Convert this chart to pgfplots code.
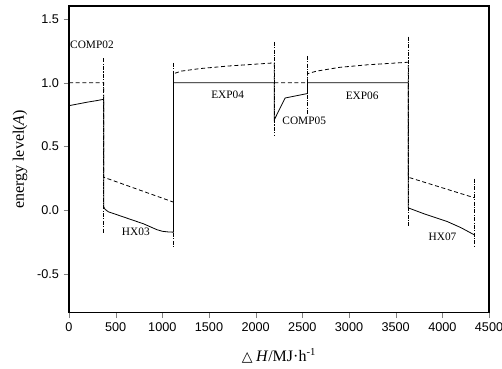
\documentclass[border=0pt]{standalone}
\usepackage{fontspec}
\setmainfont{Liberation Serif}
\newfontfamily\arialf{Liberation Sans}
\newfontfamily\dejavu{DejaVu Sans}
\usepackage{pgfplots}
\pgfplotsset{compat=1.18}
\begin{document}
\begin{tikzpicture}
\begin{axis}[
  at={(0pt,0pt)}, anchor=south west,
  scale only axis,
  width=315pt, height=230pt,
  xmin=0, xmax=4500, ymin=-0.8, ymax=1.6,
  xtick={0,500,...,4500},
  ytick={-0.5,0,0.5,1.0,1.5},
  tick align=outside, xtick pos=bottom, ytick pos=left,
  major tick length=4pt,
  axis line style={line width=0.8pt},
  /pgf/number format/assume math mode=true,
  /pgf/number format/1000 sep={},
  yticklabel style={font=\arialf\fontsize{9.5}{11}\selectfont, /pgf/number format/fixed, /pgf/number format/fixed zerofill, /pgf/number format/precision=1},
  xticklabel style={font=\arialf\fontsize{9.5}{11}\selectfont},
  scaled ticks=false,
  xlabel={{\dejavu\fontsize{10.5}{10}\selectfont △}\hspace{2.5pt}\textit{H}/MJ·h\textsuperscript{-1}},
  ylabel={energy level(\textit{A})},
  label style={font=\fontsize{12}{14}\selectfont},
  xlabel style={at={(axis description cs:0.5,-0.141)}, anchor=center},
  ylabel style={at={(axis description cs:-0.1167,0.5)}, anchor=center},
  clip=false,
]
% solid line
\addplot[black, line width=0.6pt] coordinates {
(0,0.820) (100,0.834) (200,0.848) (300,0.860) (372,0.870)
(372,0.030) (385,0.010) (420,-0.010) (600,-0.055) (800,-0.105) (940,-0.150) (1000,-0.163) (1060,-0.168) (1120,-0.170)
(1120,1.0) (2200,1.0) (2200,0.71) (2315,0.88) (2555,0.915) (2555,1.0) (3635,1.0)
(3635,0.02) (3800,-0.025) (4050,-0.086) (4200,-0.135) (4340,-0.19)
};
% dashed line
\addplot[black, line width=0.6pt, dash pattern=on 3pt off 2pt] coordinates {
(0,1.0) (372,1.0) (372,0.26) (1120,0.065)
(1120,1.07) (1200,1.09) (1400,1.11) (1700,1.13) (2000,1.145) (2200,1.155)
(2200,1.0) (2555,1.0)
(2555,1.07) (2650,1.09) (2900,1.12) (3200,1.14) (3635,1.16)
(3635,0.26) (4340,0.10)
};
% dash-dot vertical separators
\addplot[black, line width=0.4pt, dash pattern=on 3pt off 1pt on 0.8pt off 1pt] coordinates {(372,1.19) (372,-0.18)};
\addplot[black, line width=0.4pt, dash pattern=on 3pt off 1pt on 0.8pt off 1pt] coordinates {(1120,1.155) (1120,-0.29)};
\addplot[black, line width=0.4pt, dash pattern=on 3pt off 1pt on 0.8pt off 1pt] coordinates {(2200,1.32) (2200,0.58)};
\addplot[black, line width=0.4pt, dash pattern=on 3pt off 1pt on 0.8pt off 1pt] coordinates {(2555,1.21) (2555,0.75)};
\addplot[black, line width=0.4pt, dash pattern=on 3pt off 1pt on 0.8pt off 1pt] coordinates {(3635,1.36) (3635,-0.12)};
\addplot[black, line width=0.4pt, dash pattern=on 3pt off 1pt on 0.8pt off 1pt] coordinates {(4340,0.25) (4340,-0.29)};
% labels
\begin{scope}[every node/.style={font=\fontsize{8.5}{10}\selectfont, inner sep=0pt}]
\node at (axis cs:246,1.30) {COMP02};
\node at (axis cs:716,-0.17) {HX03};
\node at (axis cs:1700,0.906) {EXP04};
\node at (axis cs:2520,0.705) {COMP05};
\node at (axis cs:3141,0.90) {EXP06};
\node at (axis cs:4002,-0.21) {HX07};
\end{scope}
\end{axis}
\pgfresetboundingbox
\useasboundingbox (-51.75pt,-42.2pt) rectangle (324.75pt,234.5pt);
\end{tikzpicture}
\end{document}
